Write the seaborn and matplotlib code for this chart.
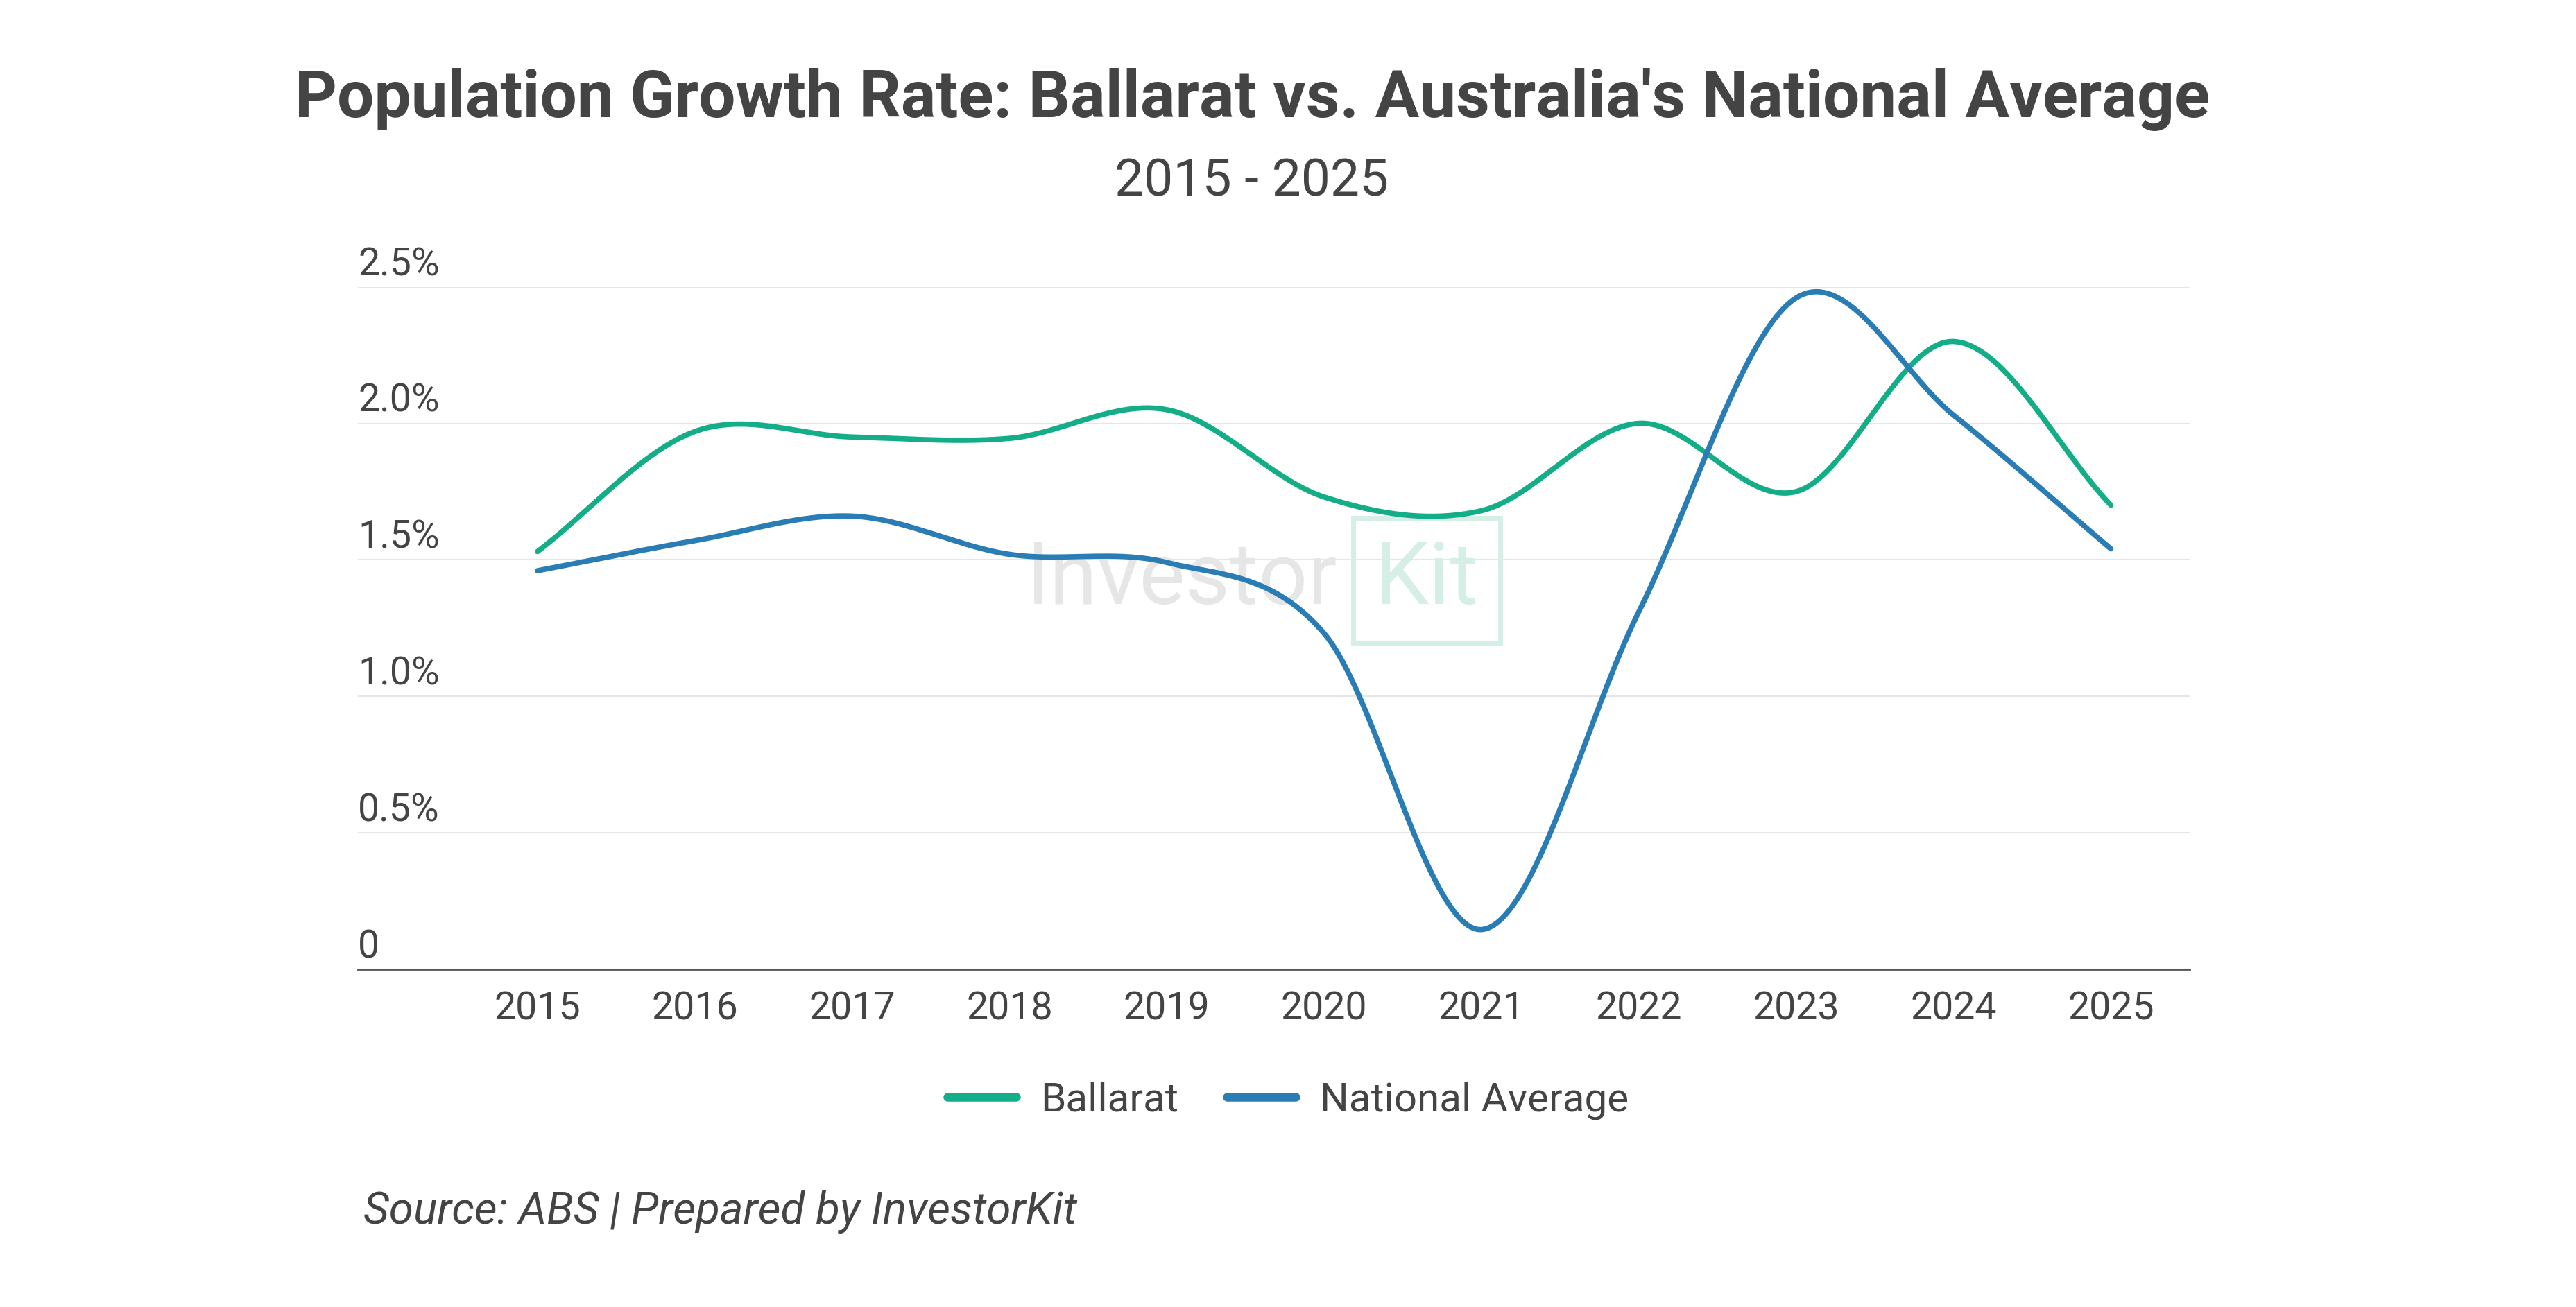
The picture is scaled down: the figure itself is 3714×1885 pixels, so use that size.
import matplotlib
matplotlib.use("Agg")
import matplotlib.pyplot as plt
from matplotlib.lines import Line2D
import numpy as np
import pandas as pd
import seaborn as sns

YEARS = [2015, 2016, 2017, 2018, 2019, 2020, 2021, 2022, 2023, 2024, 2025]
BALLARAT = [1.53, 1.97, 1.95, 1.945, 2.05, 1.73, 1.68, 2.00, 1.75, 2.30, 1.70]
NATIONAL = [1.46, 1.57, 1.66, 1.52, 1.49, 1.23, 0.145, 1.31, 2.46, 2.03, 1.54]
Y_TICKS = [0, 0.5, 1.0, 1.5, 2.0, 2.5]
Y_LABELS = ["0", "0.5%", "1.0%", "1.5%", "2.0%", "2.5%"]

GREEN = "#13ad87"
BLUE = "#2a7db4"
TEXT = "#444444"


def smooth(x, y, n=40):
    """Cubic Hermite spline through the data points (display only)."""
    x = np.asarray(x, float)
    y = np.asarray(y, float)
    m = np.gradient(y, x)
    xs, ys = [], []
    for i in range(len(x) - 1):
        h = x[i + 1] - x[i]
        t = np.linspace(0, 1, n, endpoint=False)
        h00 = 2 * t**3 - 3 * t**2 + 1
        h10 = t**3 - 2 * t**2 + t
        h01 = -2 * t**3 + 3 * t**2
        h11 = t**3 - t**2
        xs.append(x[i] + t * h)
        ys.append(h00 * y[i] + h10 * h * m[i] + h01 * y[i + 1] + h11 * h * m[i + 1])
    xs.append([x[-1]])
    ys.append([y[-1]])
    return np.concatenate(xs), np.concatenate(ys)


sns.set_theme(style="white")
plt.rcParams["font.family"] = ["Roboto", "DejaVu Sans"]

fig = plt.figure(figsize=(37.14, 18.85), dpi=100)
ax = fig.add_axes([0.139, 0.2585, 0.711, 0.522])

frames = []
for name, vals in [("Ballarat", BALLARAT), ("National Average", NATIONAL)]:
    sx, sy = smooth(YEARS, vals)
    frames.append(pd.DataFrame({"year": sx, "rate": sy, "series": name}))
df = pd.concat(frames)

sns.lineplot(data=df, x="year", y="rate", hue="series", palette=[GREEN, BLUE],
             linewidth=5.5, ax=ax, legend=False, sort=False, estimator=None)

ax.set_xlim(2013.86, 2025.5)
ax.set_ylim(0, 2.5)
ax.set_xticks(YEARS)
ax.set_xticklabels([str(y) for y in YEARS], fontsize=40, color=TEXT)
ax.tick_params(axis="x", length=0, pad=22)
ax.set_yticks(Y_TICKS)
ax.set_yticklabels([])
ax.tick_params(axis="y", length=0)
ax.grid(axis="y", color="#e6e6e6", linewidth=1.5)
for s in ["top", "right", "left"]:
    ax.spines[s].set_visible(False)
ax.spines["bottom"].set_color("#555555")
ax.spines["bottom"].set_linewidth(2)
ax.set_xlabel("")
ax.set_ylabel("")

for v, lab in zip(Y_TICKS, Y_LABELS):
    ax.annotate(lab, xy=(0, v), xycoords=("axes fraction", "data"),
                xytext=(0, 4), textcoords="offset points",
                fontsize=40, color=TEXT, ha="left", va="bottom")

# faint watermark
ax.text(0.535, 0.57, "Investor", transform=ax.transAxes, fontsize=90,
        color="#e6e6e6", ha="right", va="center", zorder=0)
ax.text(0.555, 0.57, "Kit", transform=ax.transAxes, fontsize=90,
        color="#d5efe7", ha="left", va="center", zorder=0,
        bbox=dict(boxstyle="square,pad=0.25", fc="none", ec="#d5efe7", lw=5))

fig.text(0.486, 0.924, "Population Growth Rate: Ballarat vs. Australia's National Average",
         fontsize=68, fontweight="bold", color=TEXT, ha="center", va="center")
fig.text(0.486, 0.861, "2015 - 2025", fontsize=54, color=TEXT, ha="center", va="center")

handles = [Line2D([], [], color=GREEN, linewidth=9), Line2D([], [], color=BLUE, linewidth=9)]
fig.legend(handles, ["Ballarat", "National Average"], loc="center",
           bbox_to_anchor=(0.5, 0.158), ncol=2, frameon=False, fontsize=42,
           labelcolor=TEXT, handlelength=1.7, columnspacing=1.2, handletextpad=0.6)

fig.text(0.141, 0.073, "Source: ABS | Prepared by InvestorKit", fontsize=46,
         style="italic", color=TEXT, ha="left", va="center")

fig.savefig("out.png", dpi=100, facecolor="white")
